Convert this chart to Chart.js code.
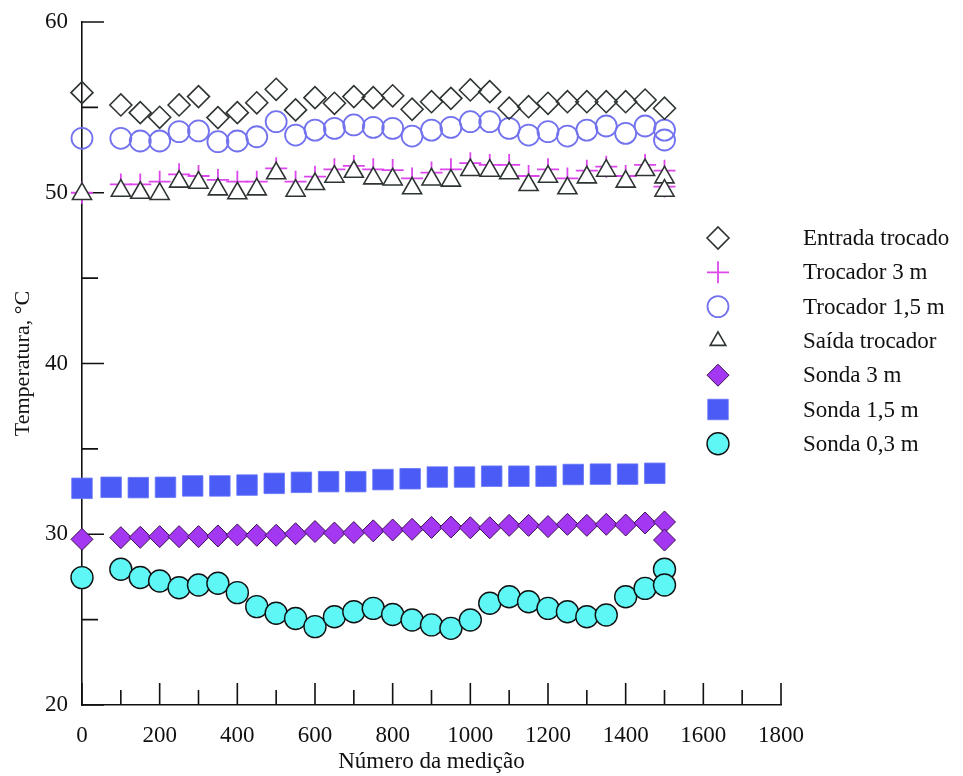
<!DOCTYPE html>
<html>
<head>
<meta charset="utf-8">
<script src="https://cdn.jsdelivr.net/npm/chart.js@4/dist/chart.umd.min.js"></script>
<style>
  html, body { margin: 0; padding: 0; background: #fff; }
  #wrap { width: 963px; height: 776px; }
</style>
</head>
<body>
<div id="wrap"><canvas id="chart" width="963" height="776"></canvas></div>
<script>
// medições (a última leitura em 1500 aparece duas vezes em algumas séries)
var measX = [0, 100, 150, 200, 250, 300, 350, 400, 450, 500, 550, 600, 650, 700, 750,
             800, 850, 900, 950, 1000, 1050, 1100, 1150, 1200, 1250, 1300, 1350, 1400, 1450, 1500];
var measXEnd = [0, 100, 150, 200, 250, 300, 350, 400, 450, 500, 550, 600, 650, 700, 750,
                800, 850, 900, 950, 1000, 1050, 1100, 1150, 1200, 1250, 1300, 1350, 1400, 1450, 1500, 1500];
var sondaMeioX = [0, 75, 145, 215, 285, 355, 425, 495, 565, 635, 705, 775, 845, 915, 985,
                  1055, 1125, 1195, 1265, 1335, 1405, 1475];

var entradaTrocado = [55.86, 55.14, 54.69, 54.42, 55.14, 55.63, 54.40, 54.69, 55.27, 56.06, 54.85, 55.57, 55.24, 55.63, 55.57,
                      55.68, 54.89, 55.33, 55.53, 56.02, 55.92, 54.95, 55.04, 55.24, 55.33, 55.33, 55.33, 55.33, 55.43, 54.95];
var trocador3m = [50.00, 50.49, 50.49, 50.65, 51.08, 50.98, 50.75, 50.65, 50.65, 51.43, 50.65, 50.94, 51.37, 51.57, 51.37,
                  51.33, 50.84, 51.18, 51.37, 51.73, 51.63, 51.63, 50.98, 51.37, 50.84, 51.29, 51.53, 50.98, 51.63, 51.29, 50.36];
var trocador15m = [53.19, 53.19, 53.03, 53.03, 53.58, 53.62, 52.99, 53.03, 53.28, 54.16, 53.38, 53.67, 53.77, 53.97, 53.83,
                   53.77, 53.32, 53.67, 53.83, 54.16, 54.16, 53.77, 53.38, 53.58, 53.32, 53.67, 53.91, 53.48, 53.91, 53.67, 53.09];
var saidaTrocador = [49.93, 50.12, 50.00, 49.93, 50.65, 50.59, 50.20, 49.97, 50.20, 51.14, 50.12, 50.51, 50.94, 51.23, 50.84,
                     50.78, 50.26, 50.78, 50.71, 51.33, 51.29, 51.14, 50.45, 50.94, 50.26, 50.90, 51.29, 50.65, 51.33, 50.90, 50.12];
var sonda3m = [29.70, 29.80, 29.82, 29.86, 29.86, 29.86, 29.90, 29.96, 29.94, 29.94, 30.03, 30.16, 30.07, 30.10, 30.20,
               30.25, 30.29, 30.40, 30.42, 30.38, 30.38, 30.52, 30.52, 30.45, 30.58, 30.52, 30.58, 30.54, 30.66, 30.72, 29.66];
var sonda15m = [32.69, 32.75, 32.73, 32.75, 32.83, 32.83, 32.88, 32.98, 33.04, 33.08, 33.08, 33.20, 33.25, 33.35, 33.35,
                33.40, 33.40, 33.40, 33.50, 33.52, 33.52, 33.57];
var sonda03m = [27.46, 27.95, 27.47, 27.26, 26.87, 27.03, 27.13, 26.58, 25.76, 25.37, 25.07, 24.59, 25.17, 25.46, 25.66,
                25.30, 24.98, 24.69, 24.49, 24.98, 25.96, 26.34, 26.05, 25.66, 25.46, 25.17, 25.27, 26.34, 26.83, 27.95, 27.03];

var seriesNames = ['Entrada trocado', 'Trocador 3 m', 'Trocador 1,5 m', 'Saída trocador', 'Sonda 3 m', 'Sonda 1,5 m', 'Sonda 0,3 m'];

var FONT = 'Liberation Serif, Times New Roman, serif';
var INK = '#111';

function pts(xs, ys) {
    var out = [];
    for (var i = 0; i < ys.length; i++) {
        out.push({x: xs[i], y: ys[i]});
    }
    return out;
}

var datasets = [
    {label: seriesNames[0], data: pts(measX, entradaTrocado), pointStyle: 'rectRot', pointRadius: 11,
        pointBackgroundColor: 'rgba(0,0,0,0)', pointBorderColor: '#2e3434', pointBorderWidth: 1.6, order: 1},
    {label: seriesNames[1], data: pts(measXEnd, trocador3m), pointStyle: 'cross', pointRadius: 11,
        pointBackgroundColor: 'rgba(0,0,0,0)', pointBorderColor: '#dc46ec', pointBorderWidth: 1.8, order: 3},
    {label: seriesNames[2], data: pts(measXEnd, trocador15m), pointStyle: 'circle', pointRadius: 10.5,
        pointBackgroundColor: 'rgba(0,0,0,0)', pointBorderColor: '#7272ee', pointBorderWidth: 1.8, order: 1},
    {label: seriesNames[3], data: pts(measXEnd, saidaTrocador), pointStyle: 'triangle', pointRadius: 11,
        pointBackgroundColor: '#fff', pointBorderColor: '#2e3434', pointBorderWidth: 1.6, order: 2},
    {label: seriesNames[4], data: pts(measXEnd, sonda3m), pointStyle: 'rectRot', pointRadius: 11,
        pointBackgroundColor: '#a437f2', pointBorderColor: '#3a1050', pointBorderWidth: 1, order: 1},
    {label: seriesNames[5], data: pts(sondaMeioX, sonda15m), pointStyle: 'rect', pointRadius: 14.5,
        pointBackgroundColor: '#4b5cf6', pointBorderColor: '#6675f7', pointBorderWidth: 0.8, order: 1},
    {label: seriesNames[6], data: pts(measXEnd, sonda03m), pointStyle: 'circle', pointRadius: 11,
        pointBackgroundColor: '#5ff6f6', pointBorderColor: '#111', pointBorderWidth: 1.4, order: 1}
];

datasets.forEach(function (d) {
    d.showLine = false;
    d.clip = false;
    d.pointHoverRadius = d.pointRadius;
});

// ticks pointing into the plot, long at labelled values
var inwardTicks = {
    id: 'inwardTicks',
    beforeDatasetsDraw: function (chart) {
        var ctx = chart.ctx;
        var xs = chart.scales.x;
        var ys = chart.scales.y;
        var area = chart.chartArea;

        ctx.save();
        ctx.strokeStyle = INK;
        ctx.lineWidth = 1.6;
        ctx.beginPath();
        xs.ticks.forEach(function (t) {
            var px = xs.getPixelForValue(t.value);
            var len = t.value % 200 === 0 ? 22 : 15;
            ctx.moveTo(px, area.bottom);
            ctx.lineTo(px, area.bottom - len);
        });
        ys.ticks.forEach(function (t) {
            var py = ys.getPixelForValue(t.value);
            var len = t.value % 10 === 0 ? 22 : 16;
            ctx.moveTo(area.left, py);
            ctx.lineTo(area.left + len, py);
        });
        ctx.stroke();
        ctx.restore();
    }
};

// legend to the right: marker column, then text
var sideLegend = {
    id: 'sideLegend',
    afterDraw: function (chart) {
        var ctx = chart.ctx;
        var drawPoint = Chart.helpers && Chart.helpers.drawPoint;

        ctx.save();
        for (var i = 0; i < datasets.length; i++) {
            var d = datasets[i];
            var y = 238 + i * 34.3;

            if (drawPoint) {
                ctx.fillStyle = d.pointBackgroundColor;
                ctx.strokeStyle = d.pointBorderColor;
                ctx.lineWidth = d.pointBorderWidth;
                drawPoint(ctx, {pointStyle: d.pointStyle, rotation: 0,
                    radius: d.pointStyle === 'triangle' ? 9 : d.pointRadius, borderWidth: d.pointBorderWidth}, 718, y);
            }

            ctx.fillStyle = INK;
            ctx.font = '23px ' + FONT;
            ctx.textAlign = 'left';
            ctx.textBaseline = 'middle';
            ctx.fillText(d.label, 803, y + 1);
        }
        ctx.restore();
    }
};

new Chart(document.getElementById('chart'), {
    type: 'scatter',
    data: {datasets: datasets},
    plugins: [inwardTicks, sideLegend],
    options: {
        responsive: false,
        animation: false,
        events: [],
        layout: {padding: {top: 22, right: 182, left: 0, bottom: 0}},
        plugins: {
            legend: {display: false},
            tooltip: {enabled: false}
        },
        scales: {
            x: {
                type: 'linear',
                min: 0,
                max: 1800,
                grid: {display: false},
                border: {display: true, color: INK, width: 1.6},
                ticks: {
                    stepSize: 100,
                    autoSkip: false,
                    maxRotation: 0,
                    padding: 9,
                    color: INK,
                    font: {family: FONT, size: 23},
                    callback: function (v) { return v % 200 === 0 ? v : ''; }
                },
                title: {display: true, text: 'Número da medição', color: INK,
                    font: {family: FONT, size: 23}, padding: {top: 0, bottom: 0}},
                afterFit: function (s) { s.height = 71; }
            },
            y: {
                min: 20,
                max: 60,
                grid: {display: false},
                border: {display: true, color: INK, width: 1.6},
                ticks: {
                    stepSize: 5,
                    autoSkip: false,
                    padding: 6,
                    color: INK,
                    font: {family: FONT, size: 23, lineHeight: 1},
                    callback: function (v) { return v % 10 === 0 ? v : ''; }
                },
                title: {display: true, text: 'Temperatura, °C', color: INK,
                    font: {family: FONT, size: 22}, padding: {top: 10, bottom: 0}},
                afterFit: function (s) { s.width = 82; }
            }
        }
    }
});
</script>
</body>
</html>
